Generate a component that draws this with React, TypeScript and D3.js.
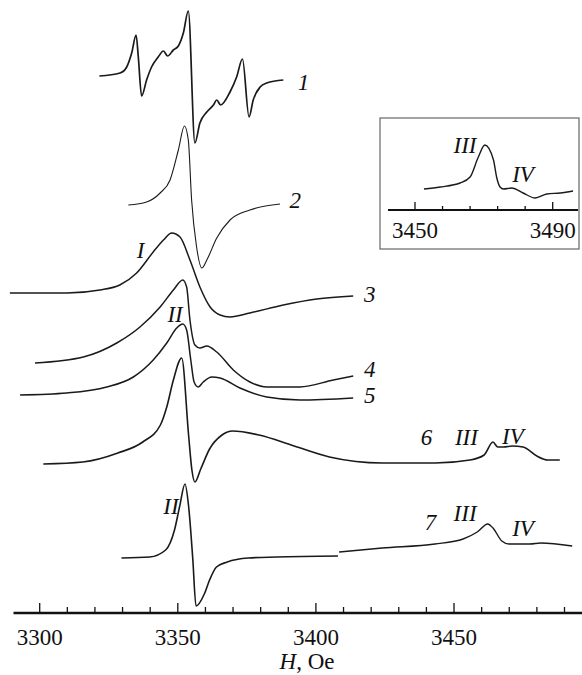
import React, { useEffect, useRef } from 'react';
import * as d3 from 'd3';

// EPR spectra, field H (Oe) vs intensity (a.u., stacked)
const spectrum1 = [
  [3321.6, 538], [3329.1, 541], [3331.5, 547], [3333.3, 561], [3334.9, 579], [3335.7, 557],
  [3336.9, 518], [3338.7, 534], [3340.5, 547], [3342.9, 557], [3344.8, 563], [3346.3, 558],
  [3348.4, 564], [3350.2, 568], [3352.0, 581], [3353.8, 603], [3356.2, 471], [3358.0, 491],
  [3360.5, 502], [3362.9, 509], [3364.1, 514], [3365.5, 509], [3368.9, 522], [3371.3, 537],
  [3373.4, 555], [3375.8, 497], [3377.3, 514], [3379.8, 527], [3382.2, 531], [3388.2, 534],
];
const spectrum2 = [
  [3332.1, 409], [3338.7, 412], [3343.6, 421], [3347.2, 434], [3350.2, 464], [3352.4, 488],
  [3353.8, 474], [3355.0, 414], [3356.8, 367], [3358.7, 346], [3360.5, 354], [3364.1, 376],
  [3368.9, 394], [3376.1, 404], [3387.0, 410],
];
const spectrum3 = [
  [3289.2, 321], [3309.8, 321], [3321.8, 324], [3329.0, 329], [3335.1, 341], [3341.1, 362],
  [3344.8, 374], [3347.8, 381], [3350.8, 377], [3354.4, 354], [3358.0, 327], [3361.7, 307],
  [3365.3, 299], [3368.9, 297], [3376.1, 301], [3388.2, 309], [3400.3, 315], [3413.5, 318],
];
const spectrum4 = [
  [3298.3, 251], [3315.8, 257], [3327.9, 271], [3336.3, 287], [3343.6, 307], [3348.4, 324],
  [3351.8, 334], [3353.2, 327], [3354.4, 294], [3356.2, 269], [3358.0, 266], [3360.5, 268],
  [3364.1, 262], [3370.1, 244], [3376.1, 232], [3382.2, 227], [3394.2, 227], [3406.3, 234],
  [3413.5, 238],
];
const spectrum5 = [
  [3292.9, 219], [3309.8, 221], [3324.3, 227], [3333.9, 237], [3341.1, 254], [3346.0, 271],
  [3349.6, 286], [3351.8, 290], [3353.2, 284], [3354.7, 254], [3355.9, 232], [3357.4, 227],
  [3359.2, 232], [3362.3, 237], [3365.3, 236], [3372.5, 226], [3382.2, 217], [3394.2, 214],
  [3413.5, 216],
];
const spectrum6 = [
  [3301.3, 150], [3315.6, 152], [3328.3, 161], [3337.3, 172], [3343.7, 189], [3346.0, 207],
  [3348.4, 234], [3351.4, 256], [3353.9, 179], [3355.1, 144], [3356.2, 132], [3358.3, 145],
  [3361.5, 165], [3366.0, 179], [3369.8, 183], [3379.4, 179], [3392.1, 168], [3404.9, 157],
  [3424.0, 151], [3443.1, 151], [3455.8, 154], [3460.9, 159], [3464.1, 172], [3465.8, 167],
  [3468.0, 167], [3471.1, 168], [3475.0, 167], [3480.0, 158], [3483.9, 154], [3488.3, 154],
];
const spectrum7a = [
  [3329.6, 56], [3339.8, 57], [3345.6, 64], [3348.8, 84], [3350.7, 108], [3352.6, 130],
  [3353.9, 108], [3355.4, 56], [3356.6, 8], [3359.6, 20], [3361.5, 34], [3364.0, 47],
  [3367.9, 52], [3375.5, 56], [3385.7, 57], [3408.0, 58],
];
const spectrum7b = [
  [3408.4, 62], [3424.0, 66], [3443.1, 70], [3453.3, 75], [3458.4, 82], [3462.2, 90],
  [3464.1, 86], [3467.3, 73], [3469.9, 70], [3477.5, 70], [3481.4, 71], [3492.8, 68],
];
const insetSpectrum = [
  [3452.6, 21], [3457.3, 23], [3463.1, 27], [3466.0, 33], [3468.4, 53], [3470.3, 65],
  [3472.8, 50], [3473.7, 33], [3474.7, 23], [3475.7, 21], [3478.1, 22], [3481.4, 17],
  [3484.9, 12], [3488.3, 16], [3492.2, 17], [3495.9, 19],
];

const spectra = [
  { name: '1', data: spectrum1, width: 1.7 },
  { name: '2', data: spectrum2, width: 1.1 },
  { name: '3', data: spectrum3, width: 1.5 },
  { name: '4', data: spectrum4, width: 1.5 },
  { name: '5', data: spectrum5, width: 1.5 },
  { name: '6', data: spectrum6, width: 1.6 },
  { name: '7a', data: spectrum7a, width: 1.6 },
  { name: '7b', data: spectrum7b, width: 1.4 },
];

// labels: [H, a.u., text]
const curveLabels = [
  [3395.5, 524, '1'], [3392.5, 406, '2'], [3419.5, 312, '3'], [3419.5, 237, '4'], [3419.5, 211, '5'],
  [3440.0, 169, '6'], [3441.5, 84, '7'],
];
const peakLabels = [
  [3336.5, 356, 'I'], [3349.0, 292, 'II'], [3347.5, 100, 'II'],
  [3454.5, 169, 'III'], [3454.0, 93, 'III'], [3471.3, 170, 'IV'], [3475.0, 78, 'IV'],
];
const mainTicks = d3.range(3300, 3491, 10);
const mainTickLabels = [3300, 3350, 3400, 3450];
const insetTicks = d3.range(3450, 3491, 8);
const insetTickLabels = [3450, 3490];

const W = 582;
const H = 675;

const App = () => {
  const ref = useRef<SVGSVGElement>(null);

  useEffect(() => {
    const svg = d3.select(ref.current);
    svg.selectAll('*').remove();
    const font = '"Liberation Serif", serif';

    const x = d3.scaleLinear().domain([3300, 3490]).range([39.7, 564.5]);
    const y = d3.scaleLinear().domain([0, 600]).range([614, 14]);
    const axisY = 613;

    const line = d3.line<number[]>()
      .x(d => x(d[0]))
      .y(d => y(d[1]))
      .curve(d3.curveMonotoneX);

    svg.append('g')
      .selectAll('path')
      .data(spectra)
      .join('path')
      .attr('d', d => line(d.data))
      .attr('fill', 'none')
      .attr('stroke', '#1a1a1a')
      .attr('stroke-width', d => d.width)
      .attr('stroke-linejoin', 'round');

    // main axis
    svg.append('line')
      .attr('x1', 13.5).attr('x2', W)
      .attr('y1', axisY).attr('y2', axisY)
      .attr('stroke', '#111').attr('stroke-width', 2.4);
    svg.append('g')
      .selectAll('line')
      .data(mainTicks)
      .join('line')
      .attr('x1', d => x(d)).attr('x2', d => x(d))
      .attr('y1', axisY)
      .attr('y2', d => axisY - (d % 50 === 0 ? 10 : 6))
      .attr('stroke', '#111').attr('stroke-width', 1.3);
    svg.append('g')
      .selectAll('text')
      .data(mainTickLabels)
      .join('text')
      .attr('x', d => x(d)).attr('y', 645)
      .attr('text-anchor', 'middle')
      .style('font-family', font).attr('font-size', 23)
      .attr('fill', '#111')
      .text(d => d);
    const title = svg.append('text')
      .attr('x', 307).attr('y', 669)
      .attr('text-anchor', 'middle')
      .style('font-family', font).attr('font-size', 23)
      .attr('fill', '#111');
    title.append('tspan').attr('font-style', 'italic').text('H');
    title.append('tspan').text(', Oe');

    // labels
    svg.append('g')
      .selectAll('text')
      .data([...curveLabels, ...peakLabels])
      .join('text')
      .attr('x', d => x(d[0] as number)).attr('y', d => y(d[1] as number))
      .attr('text-anchor', 'middle')
      .style('font-family', font).attr('font-size', 23).attr('font-style', 'italic')
      .attr('fill', '#111')
      .text(d => d[2] as string);

    // inset
    const inset = svg.append('g');
    inset.append('rect')
      .attr('x', 380).attr('y', 118).attr('width', 199).attr('height', 131)
      .attr('fill', 'none').attr('stroke', '#666').attr('stroke-width', 1.2);
    const ix = d3.scaleLinear().domain([3450, 3490]).range([415, 552.7]);
    const iy = d3.scaleLinear().domain([0, 100]).range([210, 110]);
    const iAxisY = 210;
    inset.append('line')
      .attr('x1', 388).attr('x2', 578)
      .attr('y1', iAxisY).attr('y2', iAxisY)
      .attr('stroke', '#111').attr('stroke-width', 2);
    inset.append('g')
      .selectAll('line')
      .data(insetTicks)
      .join('line')
      .attr('x1', d => ix(d)).attr('x2', d => ix(d))
      .attr('y1', iAxisY)
      .attr('y2', d => iAxisY - (d === 3450 || d === 3490 ? 8 : 4))
      .attr('stroke', '#111').attr('stroke-width', 1.3);
    inset.append('g')
      .selectAll('text')
      .data(insetTickLabels)
      .join('text')
      .attr('x', d => ix(d)).attr('y', 238)
      .attr('text-anchor', 'middle')
      .style('font-family', font).attr('font-size', 23)
      .attr('fill', '#111')
      .text(d => d);
    const iline = d3.line<number[]>()
      .x(d => ix(d[0]))
      .y(d => iy(d[1]))
      .curve(d3.curveMonotoneX);
    inset.append('path')
      .attr('d', iline(insetSpectrum))
      .attr('fill', 'none').attr('stroke', '#1a1a1a').attr('stroke-width', 1.4);
    inset.append('text')
      .attr('x', 465).attr('y', 153)
      .attr('text-anchor', 'middle')
      .style('font-family', font).attr('font-size', 23).attr('font-style', 'italic')
      .attr('fill', '#111').text('III');
    inset.append('text')
      .attr('x', 523).attr('y', 182)
      .attr('text-anchor', 'middle')
      .style('font-family', font).attr('font-size', 23).attr('font-style', 'italic')
      .attr('fill', '#111').text('IV');
  }, []);

  return (
    <svg ref={ref} width={W} height={H}
      style={{ position: 'absolute', left: 0, top: 0, background: '#fff' }} />
  );
};

export default App;
